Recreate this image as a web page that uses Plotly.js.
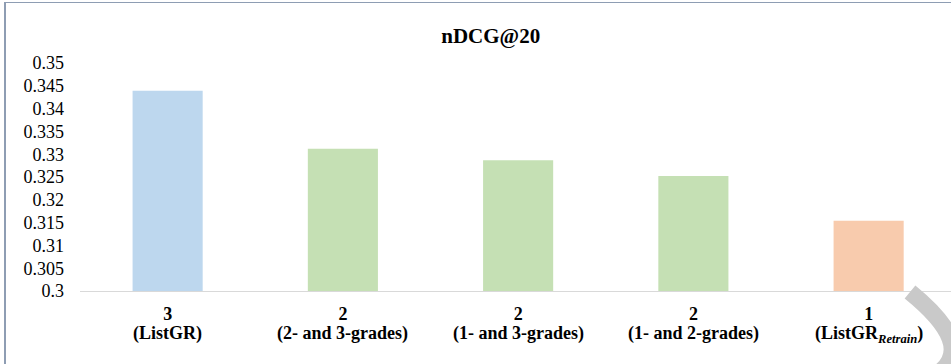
<!DOCTYPE html>
<html>
<head>
<meta charset="utf-8">
<script src="https://cdn.plot.ly/plotly-3.0.1.min.js"></script>
<style>
  html, body { margin: 0; padding: 0; background: #fff; }
  #wrap { position: relative; width: 951px; height: 364px; overflow: hidden; }
  #chart { position: absolute; left: 0; top: 0; width: 951px; height: 364px; }
  #frame { position: absolute; left: 4px; top: 2px; width: 960px; height: 400px;
           border-left: 2px solid #8e9db3; border-top: 1px solid #8e9db3; pointer-events: none; }
  #wm { position: absolute; left: 0; top: 0; pointer-events: none; }
</style>
</head>
<body>
<div id="wrap">
  <div id="chart"></div>
  <div id="frame"></div>
  <svg id="wm" width="951" height="364">
    <path d="M910,292 Q 975,345 940,372" stroke="#c9c9c9" stroke-width="17" fill="none"/>
  </svg>
</div>
<script>
// ---- data ----
const levelLabels = ["3", "2", "2", "2", "1"];
const groupLabels = [
  "(ListGR)",
  "(2- and 3-grades)",
  "(1- and 3-grades)",
  "(1- and 2-grades)",
  "(ListGR<sub><i>Retrain</i></sub>)"
];
const values = [0.3439, 0.3312, 0.3287, 0.3252, 0.3154];
const barColors = ["#BDD7EE", "#C5E0B4", "#C5E0B4", "#C5E0B4", "#F8CBAD"];
const yTickVals = [0.3, 0.305, 0.31, 0.315, 0.32, 0.325, 0.33, 0.335, 0.34, 0.345, 0.35];
const yTickLabels = ["0.3", "0.305", "0.31", "0.315", "0.32", "0.325", "0.33", "0.335", "0.34", "0.345", "0.35"];
const chartTitle = "nDCG@20";

const xIdx = levelLabels.map((_, i) => i);
const SERIF = "Liberation Serif";

const trace = {
  type: "bar",
  x: xIdx,
  y: values,
  width: 0.4,
  marker: { color: barColors, line: { width: 0 } },
  hoverinfo: "skip"
};

const annotations = groupLabels.map((t, i) => ({
  text: "<b>" + t + "</b>",
  x: xIdx[i], xref: "x",
  y: 0, yref: "paper",
  xanchor: "center", yanchor: "top",
  yshift: -31,
  borderpad: 0,
  showarrow: false,
  font: { family: SERIF, size: 18, color: "#000" }
}));

const layout = {
  width: 951,
  height: 364,
  margin: { l: 80, r: 0, t: 63, b: 73, pad: 0 },
  paper_bgcolor: "#ffffff",
  plot_bgcolor: "#ffffff",
  font: { family: SERIF, size: 18, color: "#000" },
  showlegend: false,
  title: {
    text: "<b>" + chartTitle + "</b>",
    font: { family: SERIF, size: 21, color: "#000" },
    x: 0.516, xref: "container", xanchor: "center",
    y: 0.901, yref: "container", yanchor: "middle"
  },
  xaxis: {
    range: [-0.5, 4.47],
    tickvals: xIdx,
    ticktext: levelLabels.map(t => "<b>" + t + "</b>"),
    showgrid: false,
    zeroline: false,
    showline: true,
    linecolor: "#d9d9d9",
    linewidth: 1,
    ticks: "",
    ticklabelstandoff: 6,
    tickfont: { family: SERIF, size: 18, color: "#000" }
  },
  yaxis: {
    range: [0.3, 0.35],
    tickvals: yTickVals,
    ticktext: yTickLabels,
    showgrid: false,
    zeroline: false,
    showline: false,
    ticks: "",
    ticklabelstandoff: 15,
    tickfont: { family: SERIF, size: 18, color: "#000" }
  },
  annotations: annotations,
  bargap: 0.6
};

Plotly.newPlot("chart", [trace], layout, { displayModeBar: false, staticPlot: true });
</script>
</body>
</html>
